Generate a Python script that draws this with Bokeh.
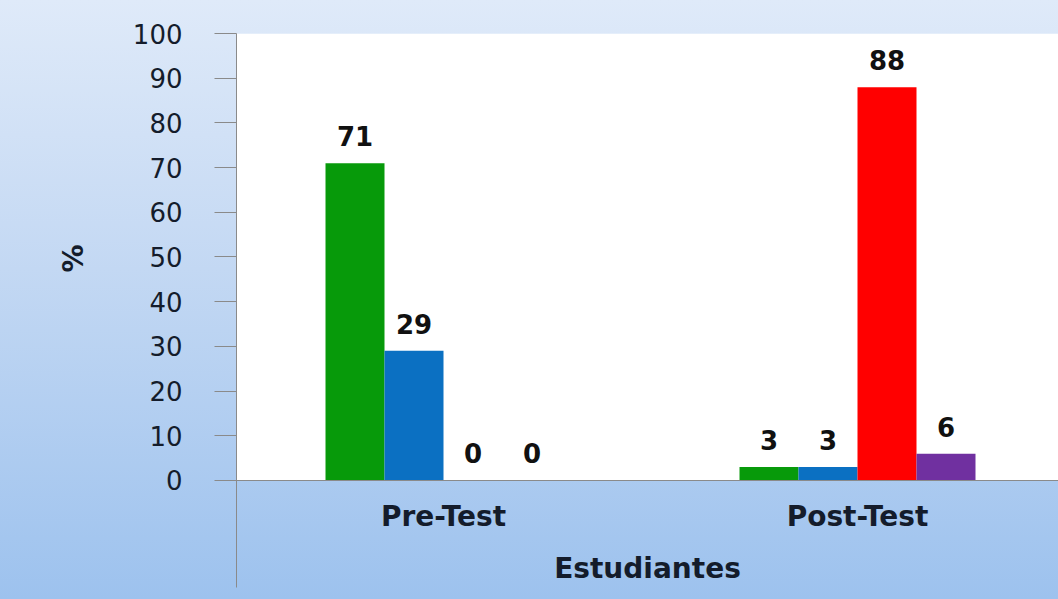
from bokeh.plotting import figure
from bokeh.models import Range1d, FixedTicker, BoxAnnotation, ColumnDataSource, Title
from bokeh.core.properties import value
from bokeh.embed import file_html
from bokeh.resources import INLINE

# ---- data ----
categories = ["Pre-Test", "Post-Test"]
series_names = ["Serie 1", "Serie 2", "Serie 3", "Serie 4"]
series_colors = ["#079a0a", "#0b70c2", "#ff0000", "#7030a0"]
green_vals = [71, 3]
blue_vals = [29, 3]
red_vals = [0, 88]
purple_vals = [0, 6]
y_ticks = [0, 10, 20, 30, 40, 50, 60, 70, 80, 90, 100]
x_title = "Estudiantes"
y_title = "%"

all_series = [green_vals, blue_vals, red_vals, purple_vals]

FONT = "DejaVu Sans"
TEXT = "#141c2b"

p = figure(width=1058, height=599, output_backend="svg", toolbar_location=None,
           x_range=Range1d(0, 1.9855), y_range=Range1d(-23.94, 100),
           min_border_left=236, min_border_top=33, min_border_bottom=12,
           min_border_right=0)
p.styles = {"background": "linear-gradient(to bottom, #dfeaf9 0%, #c3d8f3 45%, #9dc2ee 100%)"}
p.border_fill_color = None
p.background_fill_color = None
p.outline_line_color = None
p.xgrid.visible = False
p.ygrid.visible = False

# white plotting area above zero
p.add_layout(BoxAnnotation(bottom=0, top=100, fill_color="white", fill_alpha=1,
                           line_color=None, level="underlay"))

bar_w = 0.1425
offsets = [-1.5, -0.5, 0.5, 1.5]
for vals, off, col, name in zip(all_series, offsets, series_colors, series_names):
    xs = [i + 0.5 + off * bar_w for i in range(len(categories))]
    src = ColumnDataSource(dict(x=xs, top=vals, lab=[str(v) for v in vals]))
    p.vbar(x="x", top="top", bottom=0, width=bar_w, source=src,
           fill_color=col, line_color=None)
    p.text(x="x", y="top", text="lab", source=src, y_offset=-27,
           text_align="center", text_baseline="middle",
           text_font=value(FONT), text_font_style="bold",
           text_font_size="26px", text_color="#111111")

# y axis
ya = p.yaxis[0]
ya.ticker = FixedTicker(ticks=y_ticks)
ya.minor_tick_line_color = None
ya.major_tick_in = 0
ya.major_tick_out = 22
ya.major_tick_line_color = "#8a8a8a"
ya.axis_line_color = "#8a8a8a"
ya.major_label_text_font = FONT
ya.major_label_text_font_size = "26px"
ya.major_label_text_color = TEXT
ya.major_label_standoff = 32

# y axis title placed beside the 0-100 span
p.add_layout(Title(text=y_title, align="left", offset=315, standoff=80,
                   text_font=FONT, text_font_style="bold", text_font_size="28px",
                   text_color=TEXT), "left")

# x axis at zero
xa = p.xaxis[0]
xa.fixed_location = 0
xa.ticker = FixedTicker(ticks=[i + 0.5 for i in range(len(categories))])
xa.major_label_overrides = {i + 0.5: c for i, c in enumerate(categories)}
xa.major_tick_line_color = None
xa.minor_tick_line_color = None
xa.axis_line_color = "#8a8a8a"
xa.major_label_text_font = FONT
xa.major_label_text_font_style = "bold"
xa.major_label_text_font_size = "28px"
xa.major_label_text_color = TEXT
xa.major_label_standoff = 14
xa.axis_label = x_title
xa.axis_label_text_font = FONT
xa.axis_label_text_font_style = "bold"
xa.axis_label_text_font_size = "28px"
xa.axis_label_text_color = TEXT
xa.axis_label_standoff = 15

open("out.html", "w").write(file_html(p, INLINE))
